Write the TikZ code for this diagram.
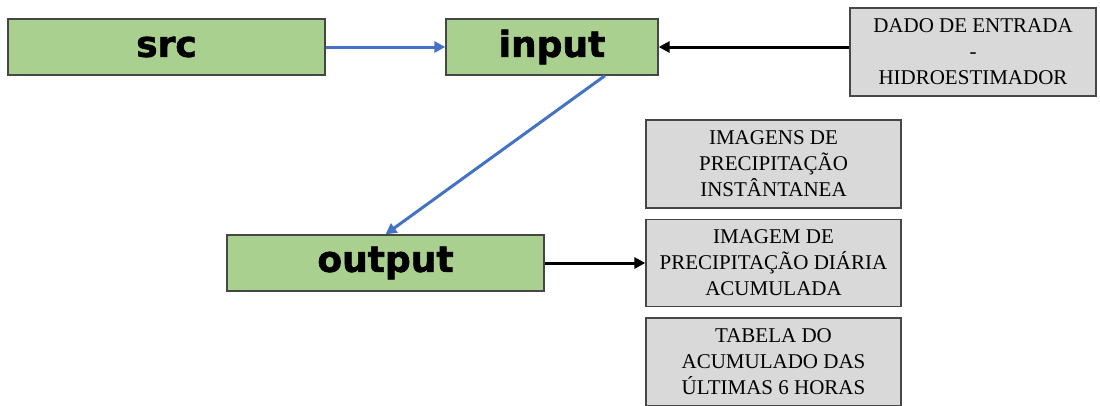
\documentclass[tikz,border=0pt]{standalone}
\usepackage{fontspec}
\setmainfont{Liberation Serif}
\newfontfamily\labelfont[BoldFeatures={FakeBold=1.6}]{DejaVu Sans}
\usepackage{xcolor}
\definecolor{ColG}{RGB}{169,208,142}
\definecolor{ColD}{RGB}{217,217,217}
\definecolor{ColB}{RGB}{68,114,196}
\definecolor{ColL}{RGB}{70,70,70}
\usepackage{tikz}
\usetikzlibrary{arrows.meta}
\tikzstyle{Stage}=[rectangle,draw=ColL,fill=ColG,line width=1.3pt,
inner sep=0pt,minimum height=56pt,
font=\labelfont\bfseries\fontsize{36}{40}\selectfont]
\tikzstyle{Note}=[rectangle,draw=ColL,fill=ColD,line width=1.3pt,
inner sep=0pt,align=center,minimum height=88pt,
font=\fontsize{21}{26}\selectfont]
\tikzstyle{Flow}=[draw=ColB,line width=3pt,-{Triangle[length=11pt,width=11pt]}]
\tikzstyle{Feed}=[draw=black,line width=3pt,-{Triangle[length=11pt,width=11pt]}]

\begin{document}
\begin{tikzpicture}[x=1pt,y=-1pt]
        \useasboundingbox (0,0) rectangle (1100,405);
        \node[Stage,minimum width=317pt](src)at(166.5,47){src};
        \node[Stage,minimum width=212pt](input)at(552,47){input};
        \node[Stage,minimum width=317pt](output)at(385.5,263){output};
        \node[Note,minimum width=246pt](dado)at(973,52)
            {DADO DE ENTRADA\\-\\HIDROESTIMADOR};
        \node[Note,minimum width=255pt](imagens)at(773.5,164)
            {IMAGENS DE\\PRECIPITAÇÃO\\INSTÂNTANEA};
        \node[Note,minimum width=255pt,minimum height=87pt](imagem)
            at(773.5,263){IMAGEM DE\\PRECIPITAÇÃO DIÁRIA\\ACUMULADA};
        \node[Note,minimum width=255pt](tabela)at(773.5,362)
            {TABELA DO\\ACUMULADO DAS\\ÚLTIMAS 6 HORAS};
        \draw[Flow](src)--(input);
        \draw[Flow]([xshift=53pt]input.south)--(output.north);
        \draw[Feed](dado.west|-input)--(input);
        \draw[Feed](output)--(imagem);
    \end{tikzpicture}
\end{document}
